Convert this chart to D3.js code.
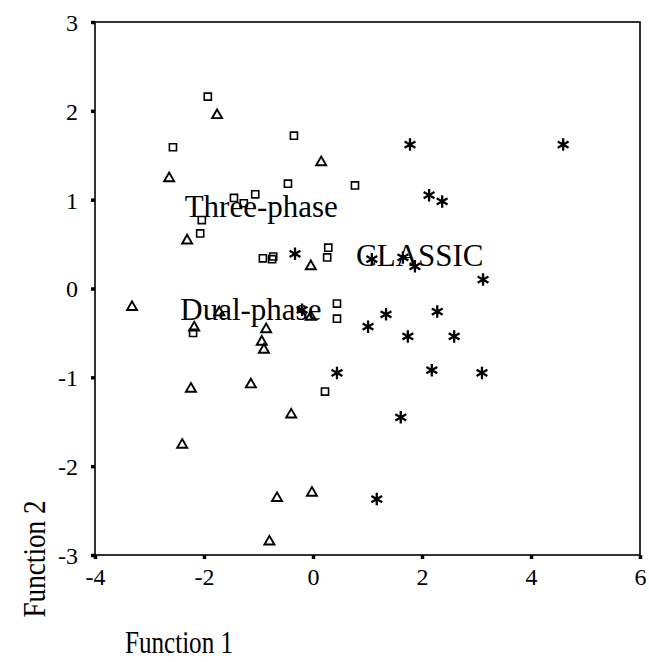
<!DOCTYPE html>
<html>
<head>
<meta charset="utf-8">
<script src="https://cdn.jsdelivr.net/npm/d3@7"></script>
<style>
  body { margin: 0; background: #fff; }
  text { font-family: "Liberation Serif", "Times New Roman", serif; fill: #000; }
</style>
</head>
<body>
<svg></svg>
<script>
// Discriminant scores: [function 1, function 2]
let threePhase = [
  [-1.93, 2.16], [-2.57, 1.59], [-0.35, 1.72], [-0.46, 1.18], [0.77, 1.16],
  [-1.45, 1.02], [-1.27, 0.96], [-1.06, 1.06], [-2.04, 0.77], [-2.07, 0.62],
  [-0.92, 0.34], [-0.75, 0.33], [-0.73, 0.36], [-2.2, -0.5], [0.28, 0.46],
  [0.26, 0.35], [0.44, -0.17], [0.44, -0.34], [0.22, -1.16]
];
let dualPhase = [
  [-1.76, 1.95], [-2.64, 1.24], [0.15, 1.42], [-2.31, 0.54], [-3.32, -0.21],
  [-2.18, -0.44], [-0.86, -0.46], [-0.94, -0.6], [-0.9, -0.69], [-0.04, 0.25],
  [-0.04, -0.32], [-2.24, -1.13], [-1.14, -1.08], [-2.4, -1.76], [-0.4, -1.42],
  [-0.66, -2.36], [-0.02, -2.3], [-0.8, -2.85], [-1.72, -0.27]
];
let classic = [
  [1.78, 1.62], [4.59, 1.62], [2.13, 1.05], [2.37, 0.98], [-0.33, 0.39],
  [1.08, 0.33], [1.65, 0.35], [1.87, 0.25], [3.12, 0.1], [1.34, -0.29],
  [2.28, -0.26], [1.01, -0.43], [1.74, -0.54], [2.59, -0.54], [0.44, -0.95],
  [2.18, -0.92], [3.1, -0.95], [1.61, -1.45], [1.17, -2.37], [-0.2, -0.24]
];

// group names and where they sit in the plot (data units)
let groupNames = ['Three-phase', 'Dual-phase', 'CLASSIC'];
let groupLabelX = [-0.95, -1.14, 1.96];
let groupLabelY = [0.81, -0.35, 0.25];

let xTicks = [-4, -2, 0, 2, 4, 6];
let yTicks = [-3, -2, -1, 0, 1, 2, 3];

let width = 649;
let height = 662;

let svg = d3.select('svg')
            .attr('width', width)
            .attr('height', height);

let xScale = d3.scaleLinear().domain([-4, 6]).range([95, 640]);
let yScale = d3.scaleLinear().domain([-3, 3]).range([555, 22]);

// frame round the plot
svg.append('rect')
   .attr('x', xScale(-4))
   .attr('y', yScale(3))
   .attr('width', xScale(6) - xScale(-4))
   .attr('height', yScale(-3) - yScale(3))
   .attr('fill', 'none')
   .attr('stroke', '#000')
   .attr('stroke-width', 1.6);

// plain hyphen for negatives, as in the original
let fmt = (d) => String(d);
let xAxis = d3.axisBottom(xScale).tickValues(xTicks).tickSize(4).tickPadding(6).tickFormat(fmt);
let yAxis = d3.axisLeft(yScale).tickValues(yTicks).tickSize(4).tickPadding(13).tickFormat(fmt);

let gx = svg.append('g')
            .attr('transform', 'translate(0,' + yScale(-3) + ')')
            .call(xAxis);
let gy = svg.append('g')
            .attr('transform', 'translate(' + xScale(-4) + ',0)')
            .call(yAxis);

[gx, gy].forEach((g) => {
  g.select('.domain').remove();
  g.selectAll('.tick line').attr('stroke', '#000').attr('stroke-width', 3.5);
  g.selectAll('.tick text')
   .attr('font-family', '"Liberation Serif", serif')
   .attr('font-size', 24)
   .attr('fill', '#000');
});
gx.selectAll('.tick text').attr('dy', '0.82em');
gy.selectAll('.tick text').attr('dy', '0.35em');

// markers
let squareSym = d3.symbol().type(d3.symbolSquare2).size(64);
let triSym = d3.symbol().type(d3.symbolTriangle2).size(72);
let starSym = d3.symbol().type(d3.symbolAsterisk).size(110);

let drawGroup = (values, sym, sw) => {
  svg.append('g')
     .selectAll('path')
     .data(values)
     .enter()
     .append('path')
     .attr('d', sym)
     .attr('transform', (d) => 'translate(' + xScale(d[0]) + ',' + yScale(d[1]) + ')')
     .attr('fill', 'none')
     .attr('stroke', '#000')
     .attr('stroke-width', sw);
};
drawGroup(threePhase, squareSym, 1.6);
drawGroup(dualPhase, triSym, 1.9);
drawGroup(classic, starSym, 2.3);

// group names inside the plot
svg.append('g')
   .selectAll('text')
   .data(groupNames)
   .enter()
   .append('text')
   .attr('x', (d, i) => xScale(groupLabelX[i]))
   .attr('y', (d, i) => yScale(groupLabelY[i]))
   .attr('text-anchor', 'middle')
   .attr('font-size', 31)
   .text((d) => d);

// axis titles
svg.append('text')
   .attr('x', 125)
   .attr('y', 653)
   .attr('font-size', 31)
   .attr('textLength', 108)
   .attr('lengthAdjust', 'spacingAndGlyphs')
   .text('Function 1');

svg.append('text')
   .attr('transform', 'translate(45,' + 559 + ') rotate(-90)')
   .attr('text-anchor', 'middle')
   .attr('font-size', 32)
   .attr('textLength', 117)
   .attr('lengthAdjust', 'spacingAndGlyphs')
   .text('Function 2');
</script>
</body>
</html>
